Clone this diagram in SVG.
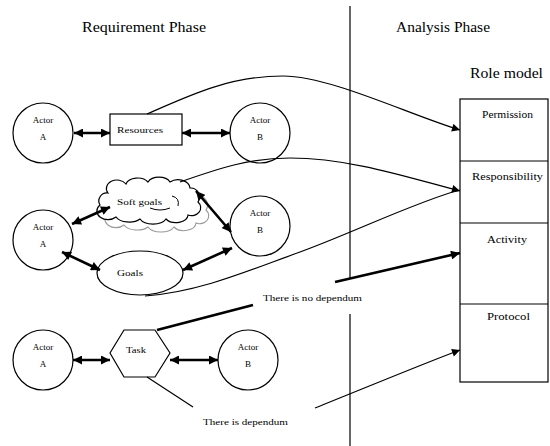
<svg xmlns="http://www.w3.org/2000/svg" width="550" height="446" viewBox="0 0 550 446" font-family="'Liberation Serif', 'DejaVu Serif', serif">
<style>
text{font-family:'Liberation Serif','DejaVu Serif',serif;fill:#000}
.big{font-size:15px}
.lbl{font-size:11px}
.sm{font-size:9px}
.shape{fill:#fff;stroke:#000;stroke-width:1.2}
.thin{fill:none;stroke:#000;stroke-width:1.2}
.thick{fill:none;stroke:#000;stroke-width:2.6}
</style>
<defs>
<marker id="ah" viewBox="0 0 10 10" refX="10" refY="5" markerUnits="userSpaceOnUse" markerWidth="10" markerHeight="9" orient="auto-start-reverse">
<path d="M0,0 L10,5 L0,10 z" fill="#000"/>
</marker>
<marker id="ahs" viewBox="0 0 10 10" refX="10" refY="5" markerUnits="userSpaceOnUse" markerWidth="9" markerHeight="8" orient="auto-start-reverse">
<path d="M0,0 L10,5 L0,10 z" fill="#000"/>
</marker>
</defs>
<rect width="550" height="446" fill="#fff"/>

<g id="headers">
<text class="big" x="82" y="32" textLength="124" lengthAdjust="spacingAndGlyphs">Requirement Phase</text>
<text class="big" x="396" y="32" textLength="94" lengthAdjust="spacingAndGlyphs">Analysis Phase</text>
<text class="big" x="470" y="78" textLength="73" lengthAdjust="spacingAndGlyphs">Role model</text>
</g>

<g id="divider">
<line x1="350" y1="6" x2="350" y2="278" stroke="#000" stroke-width="1.2"/>
<line x1="350" y1="314" x2="350" y2="446" stroke="#000" stroke-width="1.2"/>
</g>

<g id="role-model">
<rect class="shape" x="460" y="99" width="88" height="283"/>
<line x1="460" y1="161" x2="548" y2="161" stroke="#000" stroke-width="1.2"/>
<line x1="460" y1="223" x2="548" y2="223" stroke="#000" stroke-width="1.2"/>
<line x1="460" y1="304" x2="548" y2="304" stroke="#000" stroke-width="1.2"/>
<text class="lbl" x="482" y="118" textLength="51" lengthAdjust="spacingAndGlyphs">Permission</text>
<text class="lbl" x="472" y="180" textLength="71" lengthAdjust="spacingAndGlyphs">Responsibility</text>
<text class="lbl" x="487" y="243" textLength="40" lengthAdjust="spacingAndGlyphs">Activity</text>
<text class="lbl" x="487" y="320" textLength="43" lengthAdjust="spacingAndGlyphs">Protocol</text>
</g>

<g id="actorA1">
<circle class="shape" cx="43" cy="133" r="30"/>
<text class="sm" x="43" y="123" text-anchor="middle">Actor</text>
<text class="sm" x="43" y="140" text-anchor="middle">A</text>
</g>
<g id="resources">
<rect class="shape" x="110" y="114" width="72" height="31"/>
<text class="sm" x="117" y="133" textLength="46" lengthAdjust="spacingAndGlyphs">Resources</text>
</g>
<g id="actorB1">
<circle class="shape" cx="260" cy="133" r="30"/>
<text class="sm" x="260" y="123" text-anchor="middle">Actor</text>
<text class="sm" x="260" y="140" text-anchor="middle">B</text>
</g>

<g id="actorA2">
<circle class="shape" cx="43" cy="240" r="30"/>
<text class="sm" x="43" y="230" text-anchor="middle">Actor</text>
<text class="sm" x="43" y="247" text-anchor="middle">A</text>
</g>
<g id="softgoals">
<path d="M108,213 a8,8 0 0 1 8,-12 a10,8 0 0 1 18,-9 a12,8 0 0 1 22,-2 a12,8 0 0 1 22,0 a12,9 0 0 1 20,6 a9,9 0 0 1 8,14 a9,8 0 0 1 -10,13 a12,8 0 0 1 -22,4 a14,8 0 0 1 -26,0 a14,8 0 0 1 -24,-2 a9,7 0 0 1 -16,-12 z" fill="#fff" stroke="#999" stroke-width="1.1"/>
<path d="M100,205 a8,8 0 0 1 8,-12 a10,8 0 0 1 18,-9 a12,8 0 0 1 22,-2 a12,8 0 0 1 22,0 a12,9 0 0 1 20,6 a9,9 0 0 1 8,14 a9,8 0 0 1 -10,13 a12,8 0 0 1 -22,4 a14,8 0 0 1 -26,0 a14,8 0 0 1 -24,-2 a9,7 0 0 1 -16,-12 z" fill="#fff" stroke="#000" stroke-width="1.2"/>
<path d="M172,196 q8,2 6,10 M150,208 q10,4 20,0" fill="none" stroke="#000" stroke-width="1"/>
<text class="sm" x="117" y="205" textLength="45" lengthAdjust="spacingAndGlyphs">Soft goals</text>
</g>
<g id="goals">
<ellipse class="shape" cx="140" cy="273" rx="43" ry="22"/>
<text class="sm" x="117" y="276" textLength="26" lengthAdjust="spacingAndGlyphs">Goals</text>
</g>
<g id="actorB2">
<circle class="shape" cx="260" cy="226" r="30"/>
<text class="sm" x="260" y="216" text-anchor="middle">Actor</text>
<text class="sm" x="260" y="233" text-anchor="middle">B</text>
</g>

<g id="actorA3">
<circle class="shape" cx="43" cy="360" r="30"/>
<text class="sm" x="43" y="350" text-anchor="middle">Actor</text>
<text class="sm" x="43" y="367" text-anchor="middle">A</text>
</g>
<g id="task">
<polygon class="shape" points="110,353 124,330 155,330 170,353 155,377 124,377"/>
<text class="sm" x="126" y="353" textLength="20" lengthAdjust="spacingAndGlyphs">Task</text>
</g>
<g id="actorB3">
<circle class="shape" cx="248" cy="360" r="30"/>
<text class="sm" x="248" y="350" text-anchor="middle">Actor</text>
<text class="sm" x="248" y="367" text-anchor="middle">B</text>
</g>

<g id="dependum-labels">
<text class="sm" x="263" y="301" textLength="99" lengthAdjust="spacingAndGlyphs">There is no dependum</text>
<text class="sm" x="203" y="425" textLength="85" lengthAdjust="spacingAndGlyphs">There is dependum</text>
</g>

<g id="connectors">
<line class="thick" x1="74" y1="133" x2="110" y2="133" marker-start="url(#ah)" marker-end="url(#ah)"/>
<line class="thick" x1="182" y1="133" x2="230" y2="133" marker-start="url(#ah)" marker-end="url(#ah)"/>
<line class="thick" x1="72" y1="224" x2="110" y2="207" marker-start="url(#ah)" marker-end="url(#ah)"/>
<line class="thick" x1="196" y1="191" x2="231" y2="232" marker-start="url(#ah)" marker-end="url(#ah)"/>
<line class="thick" x1="62" y1="252" x2="100" y2="270" marker-start="url(#ah)" marker-end="url(#ah)"/>
<line class="thick" x1="183" y1="270" x2="232" y2="248" marker-start="url(#ah)" marker-end="url(#ah)"/>
<line class="thick" x1="73" y1="360" x2="110" y2="360" marker-start="url(#ah)" marker-end="url(#ah)"/>
<line class="thick" x1="170" y1="360" x2="218" y2="360" marker-start="url(#ah)" marker-end="url(#ah)"/>
<path class="thin" d="M147,114 C190,95 230,76 283,76 C330,76 410,115 460,130" marker-end="url(#ahs)"/>
<path class="thin" d="M180,182 C220,168 250,158 290,158 C350,158 410,178 460,191" marker-end="url(#ahs)"/>
<path class="thin" d="M145,296 C200,292 250,270 300,252 S420,200 460,190"/>
<line class="thick" x1="157" y1="330" x2="253" y2="305"/>
<line class="thick" x1="335" y1="282" x2="460" y2="253" marker-end="url(#ah)"/>
<line class="thin" x1="147" y1="377" x2="193" y2="407"/>
<path class="thin" d="M315,408 C360,390 420,365 460,350" marker-end="url(#ahs)"/>
</g>
</svg>
